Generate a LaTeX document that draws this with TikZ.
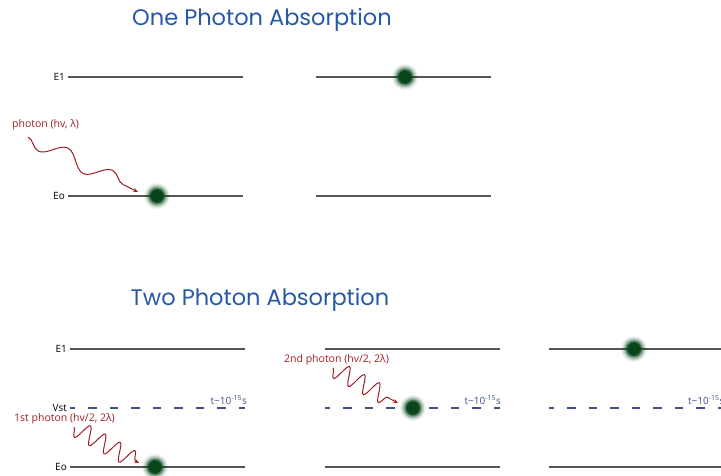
\documentclass[tikz,border=0pt]{standalone}
\usepackage{fontspec}
\setmainfont{Open Sans}
\newfontfamily\titlefont{Poppins}
\usetikzlibrary{positioning,arrows.meta,decorations.pathmorphing}
\definecolor{levelgray}{RGB}{85,85,85}
\definecolor{photonred}{RGB}{160,28,36}
\definecolor{titleblue}{RGB}{38,88,168}
\definecolor{vstblue}{RGB}{62,82,130}
\definecolor{dotgreen}{RGB}{6,70,26}
% soft green dot: stacked translucent disks, then an invisible named node
\newcommand{\particleat}[2]{%
  \foreach \r/\o in {13/0.08,11.5/0.14,10/0.25,8.5/0.45,7/0.8,6/1}{
    \fill[dotgreen,opacity=\o] #2 circle (\r);
  }
  \node[particle] (#1) at #2 {};
}

\begin{document}
\begin{tikzpicture}[x=1pt,y=-1pt,
  level/.style={levelgray,line width=1.3pt},
  virtual/.style={vstblue,line width=1.2pt,dash pattern=on 8.5pt off 13pt,dash phase=3.5pt},
  lvllabel/.style={anchor=east,inner sep=1pt,font=\fontsize{10}{11}\selectfont},
  tlabel/.style={vstblue,inner sep=0pt,font=\fontsize{10}{11}\selectfont},
  titletext/.style={titleblue,font=\titlefont\fontsize{22.5}{26}\selectfont},
  phlabel/.style={photonred,anchor=west,inner sep=0pt,font=\fontsize{10.5}{12}\selectfont},
  particle/.style={circle,inner sep=0pt,minimum size=20pt},
  photon/.style 2 args={photonred,line width=1pt,-{Stealth[length=5pt,width=4pt]},decorate,
    decoration={snake,mirror,segment length=#1,amplitude=#2,post length=4pt}}
]
  \clip (0,0) rectangle (721,475);

  % one photon absorption
  \node[titletext] (titleOne) at (262,20) {One Photon Absorption};
  \foreach \x/\n in {68/a,316/b}{
    \draw[level] (\x,77) coordinate (upOne\n) -- ++(175,0);
    \draw[level] (\x,196) coordinate (gndOne\n) -- ++(175,0);
  }
  \node[lvllabel] (lblUpOne) at ([xshift=-2pt]upOnea) {E1};
  \node[lvllabel] (lblGndOne) at ([xshift=-2pt]gndOnea) {Eo};
  \particleat{dotOneA}{(157,196)}
  \particleat{dotOneB}{(405,77)}
  \node[phlabel] (phOne) at (12,125) {photon (hv, λ)};
  \coordinate (waveOneS) at (28,137);
  \coordinate (waveOneE) at (138,192);
  \draw[photon={50pt}{8pt}] (waveOneS) -- (waveOneE);

  % two photon absorption
  \node[titletext] (titleTwo) at (260,300) {Two Photon Absorption};
  \foreach \x/\n/\l in {70/a/175,325/b/175,549/c/180}{
    \draw[level] (\x,349) coordinate (upTwo\n) -- ++(\l,0);
    \draw[virtual] (\x,408) coordinate (vst\n) -- ++(\l,0);
    \draw[level] (\x,467) coordinate (gndTwo\n) -- ++(\l,0);
  }
  \node[lvllabel] (lblUpTwo) at ([xshift=-2pt]upTwoa) {E1};
  \node[lvllabel] (lblVst) at ([xshift=-2pt]vsta) {Vst};
  \node[lvllabel] (lblGndTwo) at ([xshift=-2pt]gndTwoa) {Eo};
  \node[tlabel,anchor=base east] (tA) at (247,404) {t\textasciitilde10\textsuperscript{-15}s};
  \node[tlabel,anchor=base east] (tB) at (501,404) {t\textasciitilde10\textsuperscript{-15}s};
  \node[tlabel,anchor=base west] (tC) at (688,404) {t\textasciitilde10\textsuperscript{-15}s};
  \particleat{dotTwoA}{(155,467)}
  \particleat{dotTwoB}{(413,408)}
  \particleat{dotTwoC}{(634,349)}
  \node[phlabel] (phFirst) at (14,419) {1st photon (hv/2, 2λ)};
  \node[phlabel] (phSecond) at (284,360) {2nd photon (hv/2, 2λ)};
  \coordinate (waveFirstS) at (74,427);
  \coordinate (waveFirstE) at (139,463);
  \coordinate (waveSecondS) at (333,368);
  \coordinate (waveSecondE) at (398,403);
  \draw[photon={17pt}{9pt}] (waveFirstS) -- (waveFirstE);
  \draw[photon={17pt}{9pt}] (waveSecondS) -- (waveSecondE);
\end{tikzpicture}
\end{document}
